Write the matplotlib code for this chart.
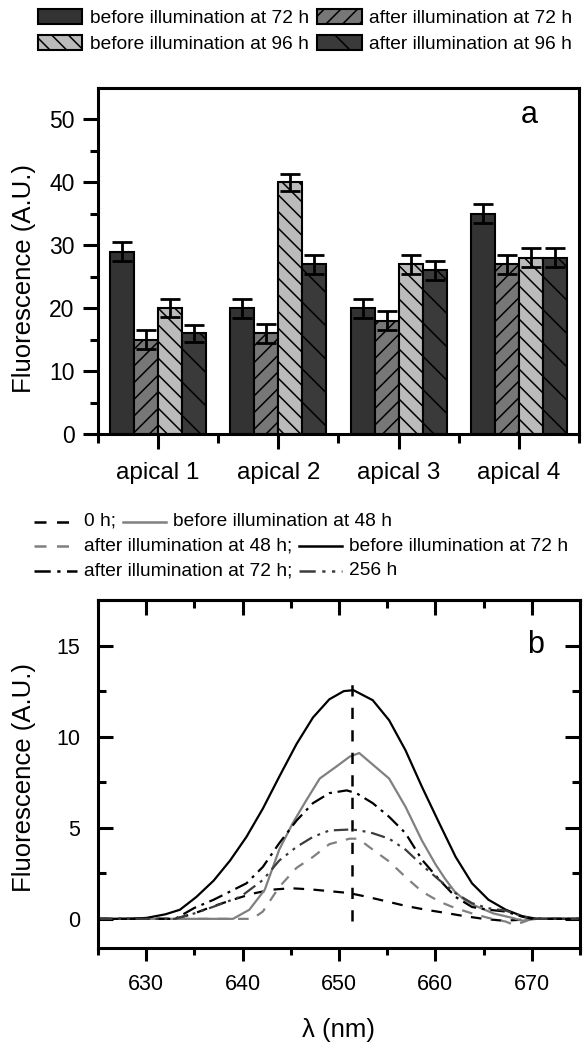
import matplotlib
matplotlib.use('Agg')
import matplotlib.pyplot as plt
from matplotlib.patches import Patch
from matplotlib.lines import Line2D
from matplotlib.offsetbox import HPacker, VPacker, TextArea, DrawingArea, AnchoredOffsetbox

plt.rcParams['font.family'] = ['Liberation Sans', 'DejaVu Sans']
plt.rcParams['hatch.linewidth'] = 1.1

# ---------------- data: panel a ----------------
categories = ['apical 1', 'apical 2', 'apical 3', 'apical 4']
bar_labels = ['before illumination at 72 h', 'after illumination at 72 h',
              'before illumination at 96 h', 'after illumination at 96 h']
before_72 = [29, 20, 20, 35]
after_72 = [15, 16, 18, 27]
before_96 = [20, 40, 27, 28]
after_96 = [16, 27, 26, 28]
err_before_72 = [1.5, 1.5, 1.5, 1.5]
err_after_72 = [1.5, 1.5, 1.5, 1.5]
err_before_96 = [1.4, 1.4, 1.5, 1.5]
err_after_96 = [1.4, 1.5, 1.5, 1.5]

# ---------------- data: panel b ----------------
x_0h = [625, 633, 635, 637, 639, 641, 643, 645, 647, 649, 651, 653, 655, 657, 659, 661, 663, 665, 667, 669, 670, 675]
y_0h = [0, 0, 0.3, 0.7, 1.05, 1.38, 1.6, 1.68, 1.62, 1.52, 1.42, 1.2, 0.95, 0.7, 0.5, 0.33, 0.15, 0.0, -0.1, -0.05, 0, 0]

x_b48 = [625, 639, 640.7, 642.3, 643.8, 645.2, 646.6, 648.0, 649.7, 651.1, 652.1, 655.2, 656.9, 658.6,
         660.0, 661.0, 662.0, 663.0, 664.0, 666.0, 668.0, 669.0, 670.5, 675]
y_b48 = [0, 0, 0.5, 1.6, 3.8, 5.25, 6.5, 7.7, 8.35, 8.9, 9.1, 7.7, 6.15, 4.3,
         3.0, 2.2, 1.5, 1.05, 0.75, 0.3, 0.05, -0.1, 0, 0]

x_a48 = [625, 641, 642.1, 643.8, 645.6, 647.3, 649.0, 651.1, 652.0, 653.5, 655.2, 656.9, 658.6, 660.4,
         662.1, 663.8, 665.5, 667.3, 668.0, 669.0, 670.0, 675]
y_a48 = [0, 0, 0.4, 1.75, 2.8, 3.4, 4.1, 4.4, 4.4, 3.8, 3.15, 2.3, 1.5, 0.95,
         0.58, 0.3, 0.05, -0.15, -0.3, -0.2, 0, 0]

x_b72 = [625, 628, 630, 632, 633.5, 635.2, 637, 638.7, 640.4, 642.1, 643.8, 645.6, 647.3, 649, 650.5,
         651.5, 653.5, 655.2, 656.9, 658.6, 660.4, 662.1, 663.8, 665.5, 667.3, 669, 670.5, 675]
y_b72 = [0, 0, 0.05, 0.25, 0.5, 1.2, 2.1, 3.2, 4.5, 6.05, 7.8, 9.6, 11.05, 12.05, 12.5,
         12.55, 12.0, 10.9, 9.25, 7.25, 5.25, 3.4, 1.95, 1.05, 0.5, 0.15, 0, 0]

x_a72 = [625, 633, 635, 637, 640.4, 642.1, 643.8, 645.6, 647.3, 649, 650.8, 651.8, 653.5, 655.2,
         656.9, 658.6, 660.4, 662.1, 663.8, 665.5, 667.3, 669, 670, 675]
y_a72 = [0, 0, 0.6, 1.05, 1.95, 2.85, 4.15, 5.4, 6.35, 6.9, 7.05, 6.9, 6.35, 5.6,
         4.7, 3.25, 2.15, 1.2, 0.65, 0.5, 0.4, 0.12, 0, 0]

x_256 = [625, 633, 635, 637, 639.8, 642.1, 643.8, 645.6, 647.3, 649, 651, 652, 653.5, 655.2,
         656.9, 658.6, 660.4, 662.1, 663.8, 665.5, 667.3, 669, 670, 675]
y_256 = [0, 0, 0.3, 0.67, 1.22, 2.13, 3.2, 3.95, 4.5, 4.85, 4.9, 4.87, 4.7, 4.4,
         3.8, 2.95, 2.13, 1.4, 0.86, 0.58, 0.45, 0.15, 0, 0]

peak_x = [651.3, 651.3]
peak_y = [-0.1, 13.0]

line_labels = ['0 h', 'before illumination at 48 h', 'after illumination at 48 h',
               'before illumination at 72 h', 'after illumination at 72 h', '256 h']

# ---------------- styles ----------------
bar_colors = ['#333333', '#777777', '#bbbbbb', '#3a3a3a']
bar_hatches = ['', '//', '\\\\', '\\']
GRAY = '#808080'
DARK = '#3c3c3c'
ls_dash = (0, (4.8, 4.2))
ls_dashdot = (0, (6.5, 2.6, 1.3, 2.6))
ls_dashdotdot = (0, (6.5, 2.6, 1.3, 2.6, 1.3, 2.6))
line_styles = [('black', ls_dash), (GRAY, '-'), (GRAY, ls_dash),
               ('black', '-'), ('black', ls_dashdot), (DARK, ls_dashdotdot)]
LEG_FS = 13.8

fig = plt.figure(figsize=(5.83, 10.42), dpi=100)
W, H = 583.0, 1042.0
ax1 = fig.add_axes([98 / W, 1 - 434 / H, 481 / W, 346 / H])
ax2 = fig.add_axes([98 / W, 1 - 948 / H, 482 / W, 348 / H])

SP_LW = 2.2

# ---------------- panel a ----------------
series = [before_72, after_72, before_96, after_96]
errs = [err_before_72, err_after_72, err_before_96, err_after_96]
offsets = [-0.3, -0.1, 0.1, 0.3]
for i in range(4):
    xs = [j + 1 + offsets[i] for j in range(len(categories))]
    ax1.bar(xs, series[i], width=0.2, color=bar_colors[i], edgecolor='black',
            linewidth=1.5, hatch=bar_hatches[i], zorder=2)
    ax1.errorbar(xs, series[i], yerr=errs[i], fmt='none', ecolor='black',
                 elinewidth=2, capsize=7, capthick=2, zorder=3)

ax1.set_xlim(0.5, 4.5)
ax1.set_ylim(0, 55)
ax1.set_xticks([1, 2, 3, 4])
ax1.set_xticklabels(categories)
ax1.set_xticks([0.5, 1.5, 2.5, 3.5, 4.5], minor=True)
ax1.set_yticks([0, 10, 20, 30, 40, 50])
ax1.set_yticks([5, 15, 25, 35, 45], minor=True)
for s in ax1.spines.values():
    s.set_linewidth(SP_LW)
ax1.tick_params(axis='y', which='major', direction='out', length=11, width=SP_LW, labelsize=16.5, pad=6)
ax1.tick_params(axis='y', which='minor', direction='out', length=5.5, width=SP_LW)
ax1.tick_params(axis='x', which='major', direction='out', length=10.5, width=SP_LW, labelsize=17.5, pad=10)
ax1.tick_params(axis='x', which='minor', direction='out', length=6.5, width=SP_LW)
ax1.set_ylabel('Fluorescence (A.U.)', fontsize=18.5)
ax1.yaxis.label.set_va('center')
ax1.yaxis.set_label_coords(-0.154, 0.45)
ax1.text(0.896, 0.922, 'a', transform=ax1.transAxes, fontsize=22, ha='center', va='center')

# legend panel a
patches = [Patch(facecolor=bar_colors[i], edgecolor='black', linewidth=1.5, hatch=bar_hatches[i])
           for i in range(4)]
order = [0, 2, 1, 3]
fig.legend(handles=[patches[k] for k in order], labels=[bar_labels[k] for k in order],
           ncol=2, loc='upper left', bbox_to_anchor=(38 / W, 1 - 9 / H), frameon=False,
           fontsize=LEG_FS, handlelength=2.3, handleheight=0.8, handletextpad=0.4,
           columnspacing=0.45, labelspacing=0.42, borderpad=0, borderaxespad=0)

# ---------------- panel b ----------------
xs_all = [x_0h, x_b48, x_a48, x_b72, x_a72, x_256]
ys_all = [y_0h, y_b48, y_a48, y_b72, y_a72, y_256]
for (c, ls), xv, yv in zip(line_styles, xs_all, ys_all):
    ax2.plot(xv, yv, color=c, linestyle=ls, linewidth=1.6)
ax2.plot(peak_x, peak_y, color='black', linestyle=(0, (4.5, 4.5)), linewidth=1.8)

ax2.set_xlim(625, 675)
ax2.set_ylim(-1.6, 17.5)
ax2.set_xticks([630, 640, 650, 660, 670])
ax2.set_xticks([625, 635, 645, 655, 665, 675], minor=True)
ax2.set_yticks([0, 5, 10, 15])
ax2.set_yticks([2.5, 7.5, 12.5], minor=True)
for s in ax2.spines.values():
    s.set_linewidth(SP_LW)
ax2.tick_params(axis='y', which='major', direction='in', left=True, right=True,
                length=11, width=SP_LW, labelsize=15.5, pad=13)
ax2.tick_params(axis='y', which='minor', direction='in', left=True, right=True,
                length=5.5, width=SP_LW)
ax2.tick_params(axis='x', which='major', direction='out', length=9, width=SP_LW, labelsize=15.5, pad=10)
ax2.tick_params(axis='x', which='minor', direction='out', length=5, width=SP_LW)
sec = ax2.secondary_xaxis('top')
sec.set_xticks([630, 640, 650, 660, 670])
sec.set_xticks([625, 635, 645, 655, 665, 675], minor=True)
sec.tick_params(axis='x', which='major', direction='in', length=11, width=SP_LW, labeltop=False)
sec.tick_params(axis='x', which='minor', direction='in', length=6, width=SP_LW)
sec.set_xticklabels([])
sec.spines['top'].set_linewidth(SP_LW)

ax2.set_ylabel('Fluorescence (A.U.)', fontsize=18.5)
ax2.yaxis.label.set_va('center')
ax2.yaxis.set_label_coords(-0.154, 0.489)
ax2.set_xlabel('\u03bb (nm)', fontsize=18.5)
ax2.xaxis.label.set_va('center')
ax2.xaxis.set_label_coords(0.5, -0.236)
ax2.text(0.907, 0.871, 'b', transform=ax2.transAxes, fontsize=22, ha='center', va='center')


# legend panel b (custom rows)
def handle(idx):
    c, ls = line_styles[idx]
    da = DrawingArea(31, 10, 0, 0)
    da.add_artist(Line2D([0, 31], [5, 5], color=c, linestyle=ls, linewidth=1.8))
    return da


def ta(s):
    return TextArea(s, textprops=dict(fontsize=LEG_FS))


rows = [
    [handle(0), ta(line_labels[0] + ';'), handle(1), ta(line_labels[1])],
    [handle(2), ta(line_labels[2] + ';'), handle(3), ta(line_labels[3])],
    [handle(4), ta(line_labels[4] + ';'), handle(5), ta(line_labels[5])],
]
hp = [HPacker(children=r, align='center', pad=0, sep=5) for r in rows]
vp = VPacker(children=hp, align='left', pad=0, sep=5.5)
box = AnchoredOffsetbox(loc='upper left', child=vp, pad=0, borderpad=0, frameon=False,
                        bbox_to_anchor=(34 / W, 1 - 513 / H), bbox_transform=fig.transFigure)
fig.add_artist(box)

fig.savefig('out.png', dpi=100)
